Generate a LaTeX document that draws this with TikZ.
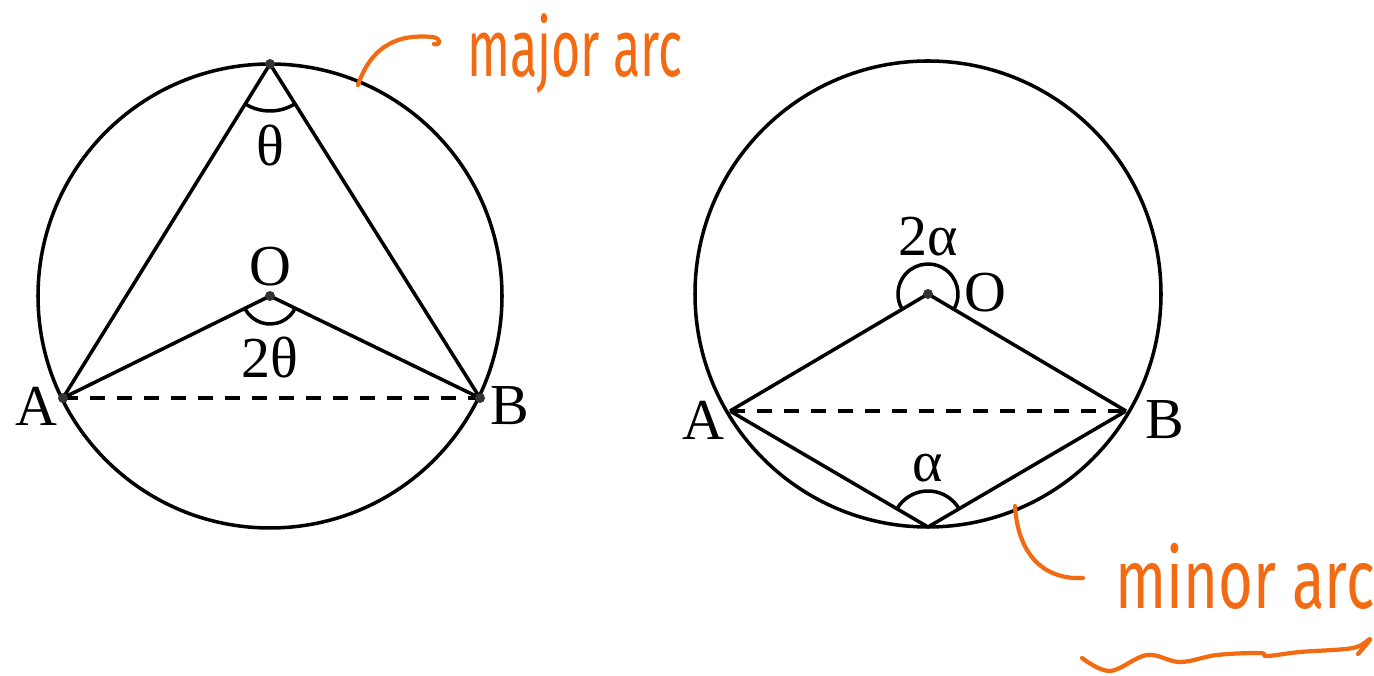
\documentclass[tikz,border=0pt]{standalone}
\usepackage{fontspec}
\usepackage{graphicx}
\setmainfont{Liberation Serif}
\newfontfamily\handfont{Fira Sans}
\usetikzlibrary{angles}
\definecolor{pen}{HTML}{F26B12}
\tikzset{
  geo/.style={line width=2pt, line join=round},
  chord/.style={line width=2.2pt, dash pattern=on 0.3cm off 0.24cm},
  lbl/.style={font=\fontsize{33}{38}\selectfont, inner sep=0pt},
  angmark/.style={draw, line width=2pt},
  note/.style={pen, line width=2.4pt, line cap=round, line join=round},
  notetext/.style={text=pen, inner sep=0pt, font=\handfont\fontsize{34}{40}\selectfont}
}
\begin{document}
\begin{tikzpicture}[x=0.02cm, y=0.02cm]
  \useasboundingbox (0,0) rectangle (1374,676);

  % left circle: angle at the centre is twice the angle on the major arc
  \coordinate (O1) at (270,380);
  \coordinate (P1) at (270,612);
  \coordinate (A1) at (63,278);
  \coordinate (B1) at (480,278);
  \draw[geo] (O1) circle[radius=232];
  \draw[geo] (A1) -- (P1) -- (B1);
  \draw[geo] (A1) -- (O1) -- (B1);
  \draw[chord] (A1) -- (B1);
  \pic[angmark, angle radius=0.94cm] {angle=A1--P1--B1};
  \pic[angmark, angle radius=0.56cm] {angle=A1--O1--B1};
  \foreach \p in {O1,P1,A1,B1}
    \fill[black!80] (\p) circle[radius=5];
  \node[lbl] (o1) at (270,409) {O};
  \node[lbl] (t1) at (270,530) {θ};
  \node[lbl] (t2) at (270,318) {2θ};
  \node[lbl] (a1) at (36,270) {A};
  \node[lbl] (b1) at (510,270) {B};

  % right circle: angle on the minor arc
  \coordinate (O2) at (928,382);
  \coordinate (C2) at (928,149);
  \coordinate (A2) at (730,265);
  \coordinate (B2) at (1126,265);
  \draw[geo] (O2) circle[radius=233];
  \draw[geo] (A2) -- (O2) -- (B2);
  \draw[geo] (A2) -- (C2) -- (B2);
  \draw[chord] (A2) -- (B2);
  \pic[angmark, angle radius=0.6cm] {angle=B2--O2--A2};
  \pic[angmark, angle radius=0.72cm] {angle=B2--C2--A2};
  \fill[black!80] (O2) circle[radius=5];
  \node[lbl] (o2) at (985,383) {O};
  \node[lbl] (al2) at (928,439) {2α};
  \node[lbl] (al1) at (928,208) {α};
  \node[lbl] (a2) at (703,256) {A};
  \node[lbl] (b2) at (1165,256) {B};

  % handwritten notes
  \coordinate (majtip) at (358,591);
  \coordinate (mintip) at (1015,170);
  \node[notetext] (major) at (575,622) {\scalebox{0.84}[1.35]{major arc}};
  \node[notetext] (minor) at (1245,100) {\scalebox{1.0}[1.4]{minor arc}};
  \draw[note] (majtip) .. controls (372,632) and (400,642) .. (432,639)
    .. controls (442,638) and (441,630) .. (434,632);
  \draw[note] (mintip) .. controls (1018,120) and (1045,96) .. (1083,98);
  \draw[note] plot[smooth, tension=0.6] coordinates {(1082,18) (1110,5) (1147,21)
    (1180,14) (1217,21) (1260,23) (1267,20) (1300,24) (1353,28) (1370,37) (1358,22)};
\end{tikzpicture}
\end{document}
